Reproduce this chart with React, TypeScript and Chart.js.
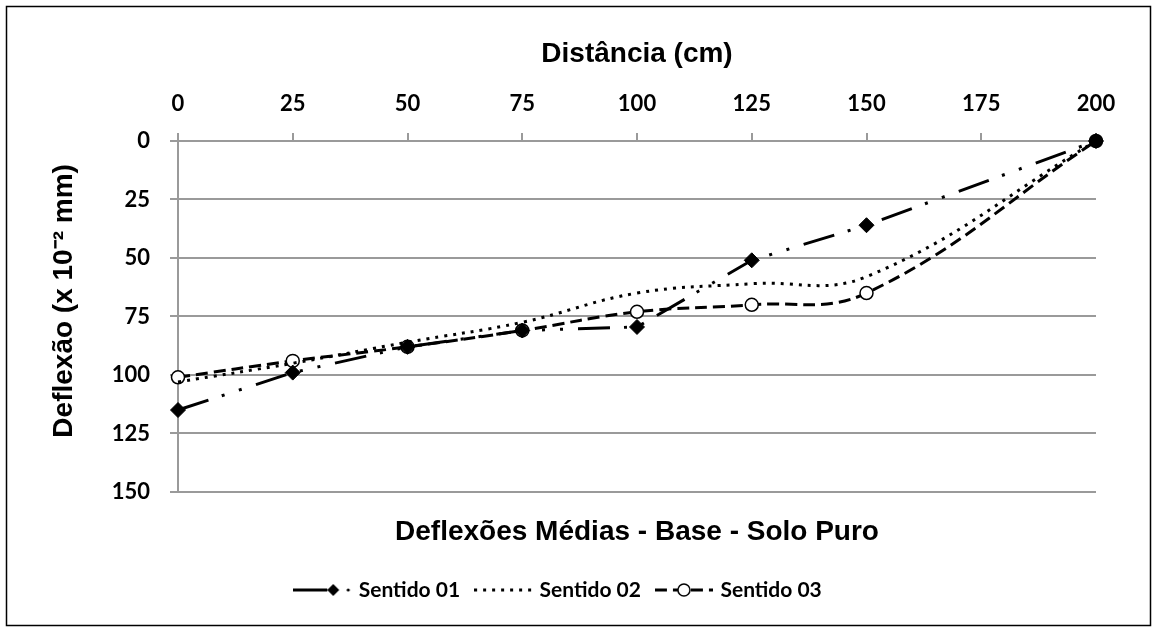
import React, { useEffect, useRef } from "react";
import { Chart, registerables } from "chart.js";

Chart.register(...registerables);

const distances = [0, 25, 50, 75, 100, 125, 150, 200];
const sentido01 = [115, 99, 88, 81, 79.5, 51, 36, 0];
const sentido02 = [103, 95, 86, 77.5, 65, 61, 58, 0];
const sentido03 = [101, 94, 88, 81, 73, 70, 65, 0];
const seriesNames = ["Sentido 01", "Sentido 02", "Sentido 03"];
const xTitle = "Distância (cm)";
const yTitle = "    Deflexão (x 10⁻² mm)";
const chartTitle = "Deflexões Médias - Base - Solo Puro";

const DASH01 = [32, 14, 3, 15, 3, 15];
const DASH02 = [3, 6];
const DASH03 = [12, 6];

function makeSample(kind: number): HTMLCanvasElement {
  const c = document.createElement("canvas");
  c.width = 58;
  c.height = 16;
  const ctx = c.getContext("2d")!;
  ctx.strokeStyle = "#000";
  ctx.fillStyle = "#000";
  ctx.lineWidth = 3;
  const cy = 8;
  if (kind === 0) {
    ctx.beginPath();
    ctx.moveTo(0, cy);
    ctx.lineTo(34, cy);
    ctx.stroke();
    ctx.beginPath();
    ctx.moveTo(40, cy - 6);
    ctx.lineTo(46, cy);
    ctx.lineTo(40, cy + 6);
    ctx.lineTo(34, cy);
    ctx.closePath();
    ctx.fill();
    ctx.beginPath();
    ctx.arc(55, cy, 1.6, 0, Math.PI * 2);
    ctx.fill();
  } else if (kind === 1) {
    ctx.setLineDash(DASH02);
    ctx.beginPath();
    ctx.moveTo(0, cy);
    ctx.lineTo(58, cy);
    ctx.stroke();
  } else {
    ctx.setLineDash(DASH03);
    ctx.beginPath();
    ctx.moveTo(0, cy);
    ctx.lineTo(58, cy);
    ctx.stroke();
    ctx.setLineDash([]);
    ctx.lineWidth = 1.5;
    ctx.fillStyle = "#fff";
    ctx.beginPath();
    ctx.arc(29, cy, 6, 0, Math.PI * 2);
    ctx.fill();
    ctx.stroke();
  }
  return c;
}

const framePlugin = {
  id: "frame",
  beforeDraw(chart: any) {
    const ctx = chart.ctx;
    ctx.save();
    ctx.fillStyle = "#fff";
    ctx.fillRect(0, 0, chart.width, chart.height);
    ctx.strokeStyle = "#000";
    ctx.lineWidth = 1.5;
    ctx.strokeRect(6.5, 6.5, 1144, 619);
    ctx.restore();
  },
};

export default function App() {
  const ref = useRef<HTMLCanvasElement | null>(null);
  useEffect(() => {
    if (!ref.current) return;
    const samples = [makeSample(0), makeSample(1), makeSample(2)];
    const tickFont = { family: "Lato", size: 22, weight: "bold" as const };
    const titleFont = { family: "Liberation Sans", size: 28, weight: "bold" as const };
    const chart = new Chart(ref.current, {
      type: "line",
      data: {
        datasets: [
          {
            label: seriesNames[0],
            data: distances.map((x, i) => ({ x, y: sentido01[i] })),
            borderColor: "#000",
            backgroundColor: "#000",
            borderWidth: 3,
            borderDash: DASH01,
            tension: 0,
            clip: false,
            pointStyle: "rectRot",
            pointRadius: 7.5,
            pointBackgroundColor: "#000",
            pointBorderColor: "#000",
            pointBorderWidth: 1,
          },
          {
            label: seriesNames[1],
            data: distances.map((x, i) => ({ x, y: sentido02[i] })),
            borderColor: "#000",
            backgroundColor: "#000",
            borderWidth: 3,
            borderDash: DASH02,
            tension: 0.4,
            clip: false,
            pointRadius: 0,
          },
          {
            label: seriesNames[2],
            data: distances.map((x, i) => ({ x, y: sentido03[i] })),
            borderColor: "#000",
            backgroundColor: "#fff",
            borderWidth: 3,
            borderDash: DASH03,
            tension: 0.4,
            clip: false,
            pointStyle: "circle",
            pointRadius: 6.5,
            pointBackgroundColor: distances.map((d) => (d === 200 ? "#000" : "#fff")),
            pointBorderColor: "#000",
            pointBorderWidth: 1.5,
          },
        ],
      },
      options: {
        animation: false,
        responsive: false,
        maintainAspectRatio: false,
        layout: { padding: { top: 0, left: 22, right: 61, bottom: 21.5 } },
        scales: {
          x: {
            type: "linear",
            position: "top",
            min: 0,
            max: 200,
            ticks: { stepSize: 25, color: "#000", font: tickFont, padding: 16 },
            grid: { drawOnChartArea: false, drawTicks: true, tickLength: 8, color: "#9a9a9a", lineWidth: 2 },
            border: { display: true, color: "#9a9a9a", width: 2 },
            title: {
              display: true,
              text: xTitle,
              color: "#000",
              font: titleFont,
              padding: { top: 37, bottom: 0 },
            },
            afterFit: (s: any) => {
              s.height = 141;
            },
          },
          y: {
            type: "linear",
            position: "left",
            reverse: true,
            min: 0,
            max: 150,
            ticks: { stepSize: 25, color: "#000", font: tickFont, padding: 20 },
            grid: { drawOnChartArea: true, drawTicks: true, tickLength: 8, color: "#9a9a9a", lineWidth: 2 },
            border: { display: true, color: "#9a9a9a", width: 2 },
            title: {
              display: true,
              text: yTitle,
              color: "#000",
              font: titleFont,
              padding: { top: 25, bottom: 0 },
            },
            afterFit: (s: any) => {
              s.width = 156;
            },
          },
        },
        plugins: {
          title: {
            display: true,
            position: "bottom",
            fullSize: false,
            text: chartTitle,
            color: "#000",
            weight: 500,
            font: titleFont,
            padding: { top: 24, bottom: 13 },
          } as any,
          legend: {
            display: true,
            position: "bottom",
            weight: 1000,
            labels: {
              usePointStyle: true,
              pointStyleWidth: 52,
              boxHeight: 16,
              padding: 17,
              color: "#000",
              font: { family: "Lato", size: 21, weight: "bold" },
              generateLabels: (ch: any) => {
                const base = Chart.defaults.plugins.legend.labels.generateLabels(ch);
                return base.map((it: any, i: number) => ({ ...it, pointStyle: samples[i], lineWidth: 0 }));
              },
            },
          } as any,
          tooltip: { enabled: false },
        },
      },
      plugins: [framePlugin],
    });
    return () => chart.destroy();
  }, []);
  return (
    <div style={{ position: "fixed", left: 0, top: 0, width: 1157, height: 632, background: "#fff" }}>
      <canvas ref={ref} width={1157} height={632} style={{ width: 1157, height: 632 }} />
    </div>
  );
}
